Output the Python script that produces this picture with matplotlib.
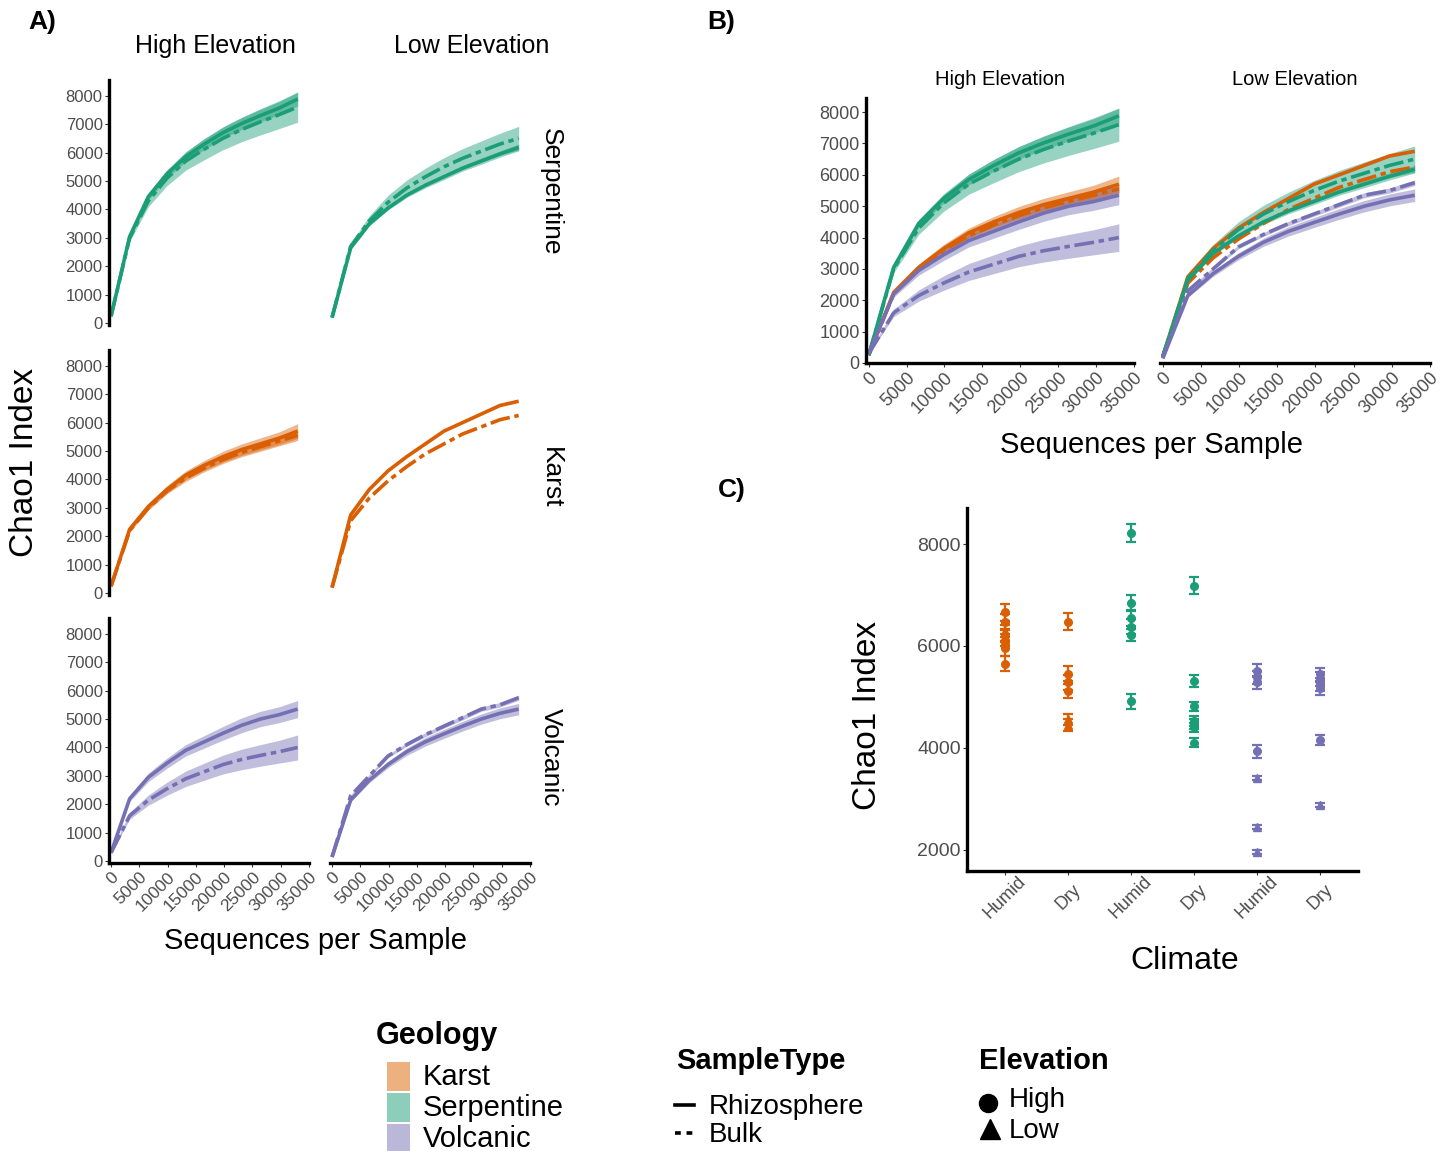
import matplotlib.pyplot as plt
from matplotlib.patches import Rectangle
from matplotlib.lines import Line2D

W, H = 1446, 1151

# rarefaction depths
depths = [10, 3300, 6600, 9900, 13200, 16500, 19800, 23100, 26400, 29700, 33000]

# Serpentine
serp_high_rhizo = [250, 3050, 4450, 5250, 5850, 6300, 6700, 7020, 7300, 7560, 7880]
serp_high_rhizo_se = [20, 80, 120, 150, 170, 190, 200, 210, 220, 230, 240]
serp_high_bulk = [250, 3000, 4300, 5100, 5700, 6120, 6500, 6810, 7080, 7330, 7600]
serp_high_bulk_se = [20, 120, 200, 260, 320, 370, 400, 430, 460, 490, 530]
serp_low_rhizo = [200, 2650, 3500, 4050, 4500, 4850, 5150, 5450, 5700, 5950, 6180]
serp_low_rhizo_se = [10, 50, 60, 70, 80, 90, 100, 100, 110, 110, 120]
serp_low_bulk = [200, 2700, 3600, 4250, 4750, 5150, 5500, 5800, 6050, 6300, 6500]
serp_low_bulk_se = [10, 100, 180, 250, 280, 300, 320, 340, 360, 380, 420]

# Karst
karst_high_rhizo = [250, 2250, 3050, 3650, 4150, 4500, 4800, 5050, 5250, 5450, 5700]
karst_high_rhizo_se = [10, 60, 100, 130, 150, 170, 190, 200, 210, 220, 260]
karst_high_bulk = [250, 2200, 3000, 3600, 4050, 4400, 4700, 4950, 5150, 5350, 5550]
karst_high_bulk_se = [10, 50, 80, 100, 120, 130, 140, 150, 160, 170, 180]
karst_low_rhizo = [200, 2750, 3650, 4300, 4800, 5250, 5700, 6000, 6300, 6600, 6750]
karst_low_rhizo_se = [0, 0, 0, 0, 0, 0, 0, 0, 0, 0, 0]
karst_low_bulk = [200, 2550, 3350, 3950, 4450, 4900, 5250, 5600, 5850, 6100, 6250]
karst_low_bulk_se = [0, 0, 0, 0, 0, 0, 0, 0, 0, 0, 0]

# Volcanic
volc_high_rhizo = [300, 2200, 2950, 3450, 3900, 4200, 4500, 4780, 5000, 5150, 5350]
volc_high_rhizo_se = [20, 100, 150, 180, 200, 220, 240, 260, 270, 280, 300]
volc_high_bulk = [300, 1600, 2150, 2550, 2900, 3150, 3400, 3580, 3720, 3850, 4000]
volc_high_bulk_se = [20, 120, 180, 230, 270, 300, 330, 360, 380, 400, 440]
volc_low_rhizo = [150, 2150, 2850, 3400, 3850, 4200, 4480, 4750, 5000, 5200, 5350]
volc_low_rhizo_se = [10, 60, 90, 110, 130, 150, 160, 170, 180, 190, 200]
volc_low_bulk = [150, 2300, 3000, 3700, 4100, 4450, 4750, 5050, 5350, 5500, 5750]
volc_low_bulk_se = [10, 40, 50, 60, 60, 70, 70, 80, 80, 80, 90]

geologies = ["Karst", "Serpentine", "Volcanic"]
geo_colors = {"Karst": "#D95F02", "Serpentine": "#1B9E77", "Volcanic": "#7570B3"}
geo_fills = {"Karst": "#EDB07F", "Serpentine": "#8DCEBB", "Volcanic": "#BAB7D9"}

curves = {
    ("Serpentine", "High"): (serp_high_rhizo, serp_high_rhizo_se, serp_high_bulk, serp_high_bulk_se),
    ("Serpentine", "Low"): (serp_low_rhizo, serp_low_rhizo_se, serp_low_bulk, serp_low_bulk_se),
    ("Karst", "High"): (karst_high_rhizo, karst_high_rhizo_se, karst_high_bulk, karst_high_bulk_se),
    ("Karst", "Low"): (karst_low_rhizo, karst_low_rhizo_se, karst_low_bulk, karst_low_bulk_se),
    ("Volcanic", "High"): (volc_high_rhizo, volc_high_rhizo_se, volc_high_bulk, volc_high_bulk_se),
    ("Volcanic", "Low"): (volc_low_rhizo, volc_low_rhizo_se, volc_low_bulk, volc_low_bulk_se),
}

# panel C: per-sample Chao1 at full depth
climate_labels = ["Humid", "Dry", "Humid", "Dry", "Humid", "Dry"]
climate_geology = ["Karst", "Karst", "Serpentine", "Serpentine", "Volcanic", "Volcanic"]
c_group = [1, 1, 1, 1, 1, 1, 1,
           2, 2, 2, 2, 2, 2,
           3, 3, 3, 3, 3, 3,
           4, 4, 4, 4, 4, 4, 4,
           5, 5, 5, 5, 5, 5, 5,
           6, 6, 6, 6, 6, 6]
c_chao1 = [6658, 6475, 6298, 6200, 6115, 5957, 5650,
           6475, 5454, 5283, 5113, 4563, 4452,
           8223, 6841, 6547, 6376, 6220, 4910,
           7182, 5310, 4812, 4530, 4465, 4400, 4098,
           5512, 5381, 5283, 3928, 3405, 2436, 1945,
           5447, 5349, 5250, 5172, 4157, 2880]
c_err = [160, 150, 120, 120, 120, 150, 150,
         170, 150, 140, 140, 110, 120,
         175, 160, 150, 150, 120, 145,
         170, 115, 90, 100, 100, 80, 90,
         130, 130, 130, 120, 40, 40, 40,
         130, 130, 130, 130, 100, 40]
c_elev = ["High", "High", "Low", "Low", "Low", "High", "High",
          "High", "High", "High", "High", "Low", "Low",
          "High", "High", "High", "High", "High", "High",
          "High", "High", "High", "High", "High", "High", "High",
          "High", "High", "High", "High", "Low", "Low", "Low",
          "High", "High", "High", "High", "High", "Low"]

plt.rcParams['font.family'] = ['Liberation Sans', 'DejaVu Sans']
fig = plt.figure(figsize=(W / 100, H / 100), dpi=100)

TICK_C = "#4D4D4D"
BULK_DASH = (5.5, 1.3, 1.5, 1.3)


def add_ax(left, top, right, bottom):
    return fig.add_axes([left / W, 1 - bottom / H, (right - left) / W, (bottom - top) / H])


def style(ax, show_x, show_y, fs):
    for s in ["top", "right"]:
        ax.spines[s].set_visible(False)
    ax.spines["left"].set_visible(show_y)
    ax.spines["bottom"].set_visible(show_x)
    ax.spines["left"].set_linewidth(2.4)
    ax.spines["bottom"].set_linewidth(2.4)
    ax.tick_params(length=3, width=0.8, color="#333333", labelcolor=TICK_C,
                   labelsize=fs, pad=1.5)
    if not show_x:
        ax.tick_params(axis="x", bottom=False, labelbottom=False)
    if not show_y:
        ax.tick_params(axis="y", left=False, labelleft=False)
    ax.set_facecolor("none")


def draw_pair(ax, geo, elev, lw):
    rh, rh_se, bu, bu_se = curves[(geo, elev)]
    col = geo_colors[geo]
    for m, se in ((rh, rh_se), (bu, bu_se)):
        ax.fill_between(depths, [a - b for a, b in zip(m, se)],
                        [a + b for a, b in zip(m, se)], color=col, alpha=0.45, lw=0)
    ax.plot(depths, rh, color=col, lw=lw, solid_capstyle="butt")
    ax.plot(depths, bu, color=col, lw=lw, dashes=BULK_DASH)


xticks = list(range(0, 35001, 5000))
yticks = list(range(0, 8001, 1000))

# ---- Panel A ----
row_geo = ["Serpentine", "Karst", "Volcanic"]
row_tops = [80, 350, 618]
col_x = [(109, 309), (330, 530)]
for r, geo in enumerate(row_geo):
    for c, elev in enumerate(["High", "Low"]):
        ax = add_ax(col_x[c][0], row_tops[r], col_x[c][1], row_tops[r] + 245)
        draw_pair(ax, geo, elev, 2.6)
        ax.set_xlim(-350, 35000)
        ax.set_ylim(-60, 8550)
        ax.set_xticks(xticks)
        ax.set_yticks(yticks)
        style(ax, r == 2, c == 0, 12)
        if r == 2:
            ax.set_xticklabels([str(t) for t in xticks], rotation=45, ha="right",
                               va="top", rotation_mode="anchor", fontsize=12.5)

# ---- Panel B ----
for c, (elev, (x0, x1)) in enumerate(zip(["High", "Low"], [(866, 1134), (1160, 1430)])):
    ax = add_ax(x0, 98, x1, 363)
    for geo in geologies:
        draw_pair(ax, geo, elev, 2.6)
    ax.set_xlim(-350, 35000)
    ax.set_ylim(0, 8450)
    ax.set_xticks(xticks)
    ax.set_yticks(yticks)
    style(ax, True, c == 0, 13)
    ax.set_xticklabels([str(t) for t in xticks], rotation=45, ha="right",
                       va="top", rotation_mode="anchor")

# ---- Panel C ----
axc = add_ax(967, 508, 1358, 871)
for g, v, e, el in zip(c_group, c_chao1, c_err, c_elev):
    col = geo_colors[climate_geology[g - 1]]
    axc.errorbar(g, v, yerr=e, fmt="o" if el == "High" else "^", color=col,
                 ms=5.5, elinewidth=1.6, capsize=3.5, capthick=1.6)
axc.set_xlim(0.4, 6.6)
axc.set_ylim(1580, 8710)
axc.set_yticks([2000, 4000, 6000, 8000])
axc.set_xticks(range(1, 7))
style(axc, True, True, 14)
axc.tick_params(axis="x", pad=16)
axc.set_xticklabels(climate_labels, rotation=45, ha="center", va="center",
                    rotation_mode="anchor", fontsize=13)

# ---- overlay for text and legend ----
ov = fig.add_axes([0, 0, 1, 1], zorder=-1)
ov.set_xlim(0, W)
ov.set_ylim(H, 0)
ov.axis("off")

lab_font = ['Liberation Sans Narrow', 'Liberation Sans']
for txt, x, y in [("A)", 28, 22), ("B)", 707, 22), ("C)", 718, 490)]:
    ov.text(x, y, txt, fontsize=19, fontweight="bold", family=lab_font,
            ha="left", va="center")

ov.text(215, 46, "High Elevation", fontsize=18, ha="center", va="center")
ov.text(472, 46, "Low Elevation", fontsize=18, ha="center", va="center")
for geo, yc in zip(row_geo, [192, 478, 757]):
    ov.text(551, yc, geo, fontsize=19, rotation=-90, ha="center", va="center")
ov.text(25, 462, "Chao1 Index", fontsize=24, rotation=90, ha="center", va="center")
ov.text(315, 941, "Sequences per Sample", fontsize=21, ha="center", va="center")

ov.text(1000, 79, "High Elevation", fontsize=14.5, ha="center", va="center")
ov.text(1295, 79, "Low Elevation", fontsize=14.5, ha="center", va="center")
ov.text(1152, 445, "Sequences per Sample", fontsize=21, ha="center", va="center")

ov.text(868, 715, "Chao1 Index", fontsize=24, rotation=90, ha="center", va="center")
ov.text(1185, 961, "Climate", fontsize=23, ha="center", va="center")

# legend: Geology
ov.text(376, 1036, "Geology", fontsize=22, fontweight="bold", ha="left", va="center")
for i, geo in enumerate(geologies):
    y0 = 1062 + i * 31
    ov.add_patch(Rectangle((387, y0), 23, 29, color=geo_fills[geo], lw=0))
    ov.text(423, y0 + 15, geo, fontsize=21, ha="left", va="center")

# legend: SampleType
ov.text(676, 1061, "SampleType", fontsize=21, fontweight="bold", ha="left", va="center")
ov.add_line(Line2D([675, 694], [1105, 1105], color="black", lw=2.6))
ov.add_line(Line2D([675, 696], [1133, 1133], color="black", lw=2.6, dashes=(1.6, 1.6)))
ov.text(709, 1107, "Rhizosphere", fontsize=20, ha="left", va="center")
ov.text(709, 1135, "Bulk", fontsize=20, ha="left", va="center")

# legend: Elevation
ov.text(979, 1061, "Elevation", fontsize=21, fontweight="bold", ha="left", va="center")
ov.plot([988], [1103], "o", color="black", ms=13)
ov.plot([990], [1129], "^", color="black", ms=15)
ov.text(1009, 1100, "High", fontsize=20, ha="left", va="center")
ov.text(1009, 1131, "Low", fontsize=20, ha="left", va="center")

fig.savefig("out.png", dpi=100)
